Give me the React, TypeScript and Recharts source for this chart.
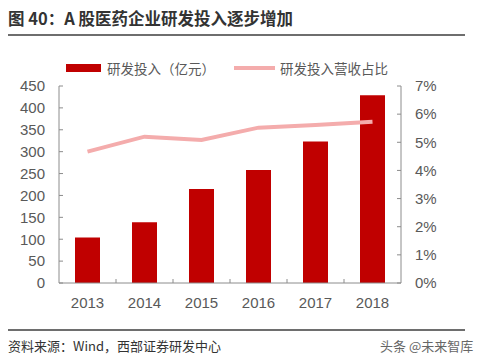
import { ComposedChart, Bar, Line, XAxis, YAxis } from "recharts";

const years = ["2013", "2014", "2015", "2016", "2017", "2018"];
const rdSpend = [104, 139, 215, 258, 323, 429];
const rdRatio = [0.0467, 0.052, 0.0508, 0.0552, 0.0561, 0.0573];
const leftTicks = [0, 50, 100, 150, 200, 250, 300, 350, 400, 450];
const rightTicks = [0, 0.01, 0.02, 0.03, 0.04, 0.05, 0.06, 0.07];
const seriesNames = ["研发投入（亿元）", "研发投入营收占比"];

const title = "图 40：A 股医药企业研发投入逐步增加";
const source = "资料来源：Wind，西部证券研发中心";
const watermark = "头条 @未来智库";

const data = years.map((year, i) => ({
  year,
  spend: rdSpend[i],
  ratio: rdRatio[i],
}));

const FONT = '"Liberation Sans", Arial, "Noto Sans CJK SC", sans-serif';
const AXIS = "#8c8c8c";
const TEXT = "#595959";
const BAR = "#c00000";
const LINE = "#f4acac";

function YearTick(props: any) {
  const { x, y, payload, index } = props;
  const off = payload?.offset ?? 0;
  return (
    <g>
      {index > 0 && (
        <line x1={x - off} x2={x - off} y1={y} y2={y - 4} stroke={AXIS} />
      )}
      <text
        x={x}
        y={y + 25}
        textAnchor="middle"
        fill={TEXT}
        fontSize={15}
        fontFamily={FONT}
      >
        {payload.value}
      </text>
    </g>
  );
}

export default function App() {
  return (
    <div
      style={{
        position: "absolute",
        left: 0,
        top: 0,
        width: 478,
        height: 360,
        background: "#fff",
        fontFamily: FONT,
        overflow: "hidden",
      }}
    >
      <div
        style={{
          position: "absolute",
          left: 8,
          top: 6,
          fontSize: 16.5,
          fontWeight: 600,
          color: "#333",
          fontFamily: '"Noto Sans CJK SC", sans-serif',
          whiteSpace: "nowrap",
        }}
      >
        {title}
      </div>
      <div
        style={{
          position: "absolute",
          left: 8,
          top: 34,
          width: 457,
          height: 2,
          background: "#6e6e6e",
        }}
      />

      <div
        style={{
          position: "absolute",
          left: 66,
          top: 58,
          display: "flex",
          alignItems: "center",
          fontSize: 13.5,
          color: TEXT,
          fontFamily: '"Noto Sans CJK SC", sans-serif',
          whiteSpace: "nowrap",
        }}
      >
        <span
          style={{ width: 35, height: 8, background: BAR, marginRight: 6 }}
        />
        <span>{seriesNames[0]}</span>
        <span
          style={{
            width: 41,
            height: 4,
            background: LINE,
            marginLeft: 19,
            marginRight: 5,
          }}
        />
        <span>{seriesNames[1]}</span>
      </div>

      <div style={{ position: "absolute", left: 0, top: 0 }}>
        <ComposedChart
          width={478}
          height={320}
          data={data}
          margin={{ top: 86, right: 0, bottom: 0, left: 0 }}
        >
          <XAxis
            dataKey="year"
            height={37}
            axisLine={{ stroke: AXIS }}
            tickLine={false}
            tickSize={0}
            tickMargin={0}
            tick={<YearTick />}
            interval={0}
          />
          <YAxis
            yAxisId="left"
            orientation="left"
            width={59}
            domain={[0, 450]}
            ticks={leftTicks}
            interval={0}
            axisLine={{ stroke: AXIS }}
            tickLine={{ stroke: AXIS }}
            tickSize={-4}
            tickMargin={18}
            tick={{ fill: TEXT, fontSize: 15, fontFamily: FONT }}
          />
          <YAxis
            yAxisId="right"
            orientation="right"
            width={77}
            domain={[0, 0.07]}
            ticks={rightTicks}
            interval={0}
            axisLine={{ stroke: AXIS }}
            tickLine={{ stroke: AXIS }}
            tickSize={-4}
            tickMargin={18}
            tickFormatter={(v) => `${Math.round(v * 100)}%`}
            tick={{ fill: TEXT, fontSize: 15, fontFamily: FONT }}
          />
          <Bar
            yAxisId="left"
            dataKey="spend"
            fill={BAR}
            barSize={25}
            isAnimationActive={false}
          />
          <Line
            yAxisId="right"
            dataKey="ratio"
            stroke={LINE}
            strokeWidth={4}
            dot={false}
            activeDot={false}
            isAnimationActive={false}
          />
        </ComposedChart>
      </div>

      <div
        style={{
          position: "absolute",
          left: 8,
          top: 329,
          width: 457,
          height: 2,
          background: "#6e6e6e",
        }}
      />
      <div
        style={{
          position: "absolute",
          left: 8,
          top: 336,
          fontSize: 13,
          color: "#333",
          fontFamily: '"Noto Sans CJK SC", sans-serif',
          whiteSpace: "nowrap",
        }}
      >
        {source}
      </div>
      <div
        style={{
          position: "absolute",
          left: 380,
          top: 336,
          fontSize: 13,
          color: "#666",
          fontFamily: '"Noto Sans CJK SC", sans-serif',
          whiteSpace: "nowrap",
        }}
      >
        {watermark}
      </div>
    </div>
  );
}
